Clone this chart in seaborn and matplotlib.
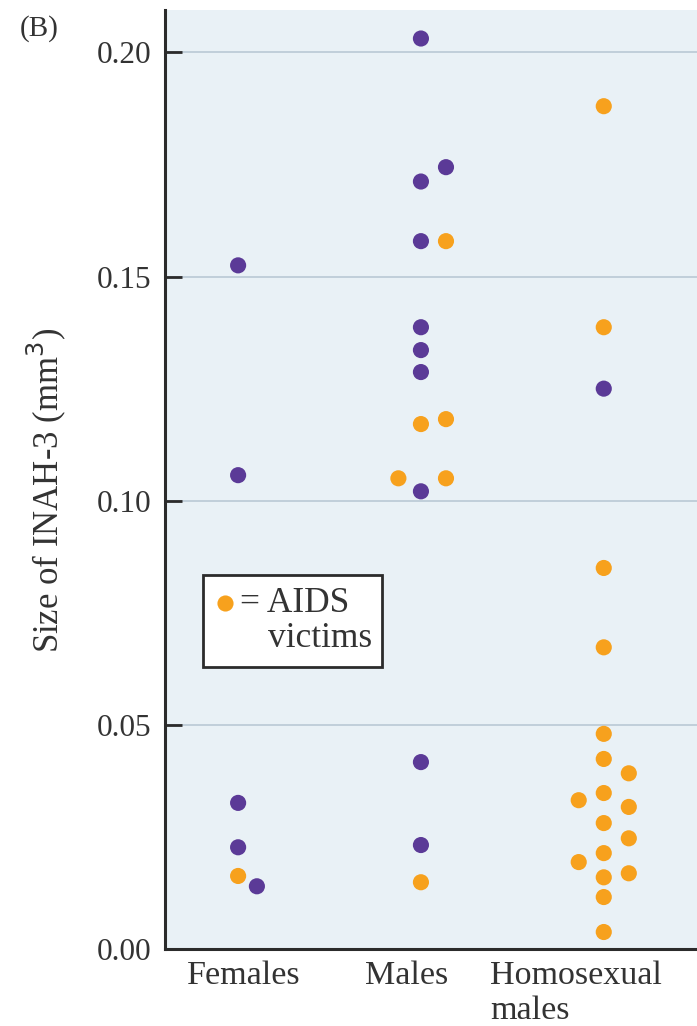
import matplotlib
matplotlib.use("Agg")
import matplotlib.pyplot as plt
import seaborn as sns
import pandas as pd

# Размер INAH-3 (мм^3) по группам; slot - сдвиг точки в колонке, aids - жертвы СПИДа
groups = ["Females", "Males", "Homosexual males"]
tick_labels = ["Females", "Males", "Homosexual\nmales"]

females_size = [0.1525, 0.1057, 0.0326, 0.0227, 0.0163, 0.0140]
females_slot = [0, 0, 0, 0, 0, 0.75]
females_aids = [0, 0, 0, 0, 1, 0]

males_size = [0.2031, 0.1712, 0.1744, 0.1579, 0.1579, 0.1387, 0.1336, 0.1287,
              0.1171, 0.1182, 0.1050, 0.1050, 0.1021, 0.0417, 0.0232, 0.0149]
males_slot = [0, 0, 1, 0, 1, 0, 0, 0, 0, 1, -0.9, 1, 0, 0, 0, 0]
males_aids = [0, 0, 0, 0, 1, 0, 0, 0, 1, 1, 1, 1, 0, 0, 0, 1]

homo_size = [0.1880, 0.1387, 0.1250, 0.0850, 0.0673, 0.0480, 0.0424, 0.0392,
             0.0348, 0.0332, 0.0317, 0.0281, 0.0247, 0.0214, 0.0194, 0.0160,
             0.0169, 0.0116, 0.0038]
homo_slot = [0, 0, 0, 0, 0, 0, 0, 1, 0, -1, 1, 0, 1, 0, -1, 0, 1, 0, 0]
homo_aids = [1, 1, 0, 1, 1, 1, 1, 1, 1, 1, 1, 1, 1, 1, 1, 1, 1, 1, 1]

yticks = [0.00, 0.05, 0.10, 0.15, 0.20]

purple = "#5b3a97"
orange = "#f7a11d"
bg = "#e9f1f6"
dark = "#2b2b2b"
txt = "#333333"

rows = []
for gi, (sizes, slots, aids) in enumerate([(females_size, females_slot, females_aids),
                                           (males_size, males_slot, males_aids),
                                           (homo_size, homo_slot, homo_aids)]):
    for s, sl, a in zip(sizes, slots, aids):
        rows.append({"group": groups[gi], "x": gi + sl * 0.137, "size": s,
                     "aids": "AIDS" if a else "other"})
df = pd.DataFrame(rows)

sns.set_style("white")
plt.rcParams["font.family"] = ["Liberation Serif", "DejaVu Serif"]

fig = plt.figure(figsize=(6.97, 10.26), dpi=100)
ax = fig.add_axes([0.2367, 0.075, 0.7633, 0.915])
ax.set_facecolor(bg)

for y in yticks[1:]:
    ax.axhline(y, color="#b9c9d5", lw=1.2, zorder=0)

sns.scatterplot(data=df, x="x", y="size", hue="aids",
                palette={"AIDS": orange, "other": purple},
                s=135, linewidth=0, legend=False, ax=ax, zorder=3)

ax.set_xlim(-0.4, 2.51)
ax.set_ylim(0, 0.2094)
ax.set_yticks(yticks)
ax.set_yticklabels([f"{v:.2f}" for v in yticks])
ax.set_xticks([0.03, 0.923, 1.847])
ax.set_xticklabels(tick_labels)
for lbl in ax.get_xticklabels():
    lbl.set_multialignment("left")
    lbl.set_linespacing(1.22)

ax.tick_params(axis="y", direction="in", length=12, width=2, color=dark,
               labelsize=22.5, labelcolor=txt, pad=10, left=True)
ax.tick_params(axis="x", length=0, labelsize=24.5, labelcolor=txt, pad=8)

for side in ["top", "right"]:
    ax.spines[side].set_visible(False)
for side in ["left", "bottom"]:
    ax.spines[side].set_color(dark)
    ax.spines[side].set_linewidth(2.2)

ax.set_xlabel("")
ax.set_ylabel("Size of INAH-3 (mm$^3$)", fontsize=25, color=txt)
ax.yaxis.set_label_coords(-0.182, 0.489)

# легенда-рамка
box = plt.Rectangle((0.0714, 0.300), 0.336, 0.098, transform=ax.transAxes,
                    facecolor="white", edgecolor=dark, lw=2, zorder=4)
ax.add_patch(box)
ax.scatter([0.113], [0.3685], transform=ax.transAxes, s=135, color=orange,
           linewidth=0, zorder=5)
ax.text(0.141, 0.3685, "= AIDS", transform=ax.transAxes, fontsize=25.5,
        color=txt, va="center", ha="left", zorder=5)
ax.text(0.389, 0.331, "victims", transform=ax.transAxes, fontsize=25.5,
        color=txt, va="center", ha="right", zorder=5)

fig.text(0.029, 0.965, "(B)", fontsize=21, color=txt)

fig.savefig("out.png", dpi=100)
